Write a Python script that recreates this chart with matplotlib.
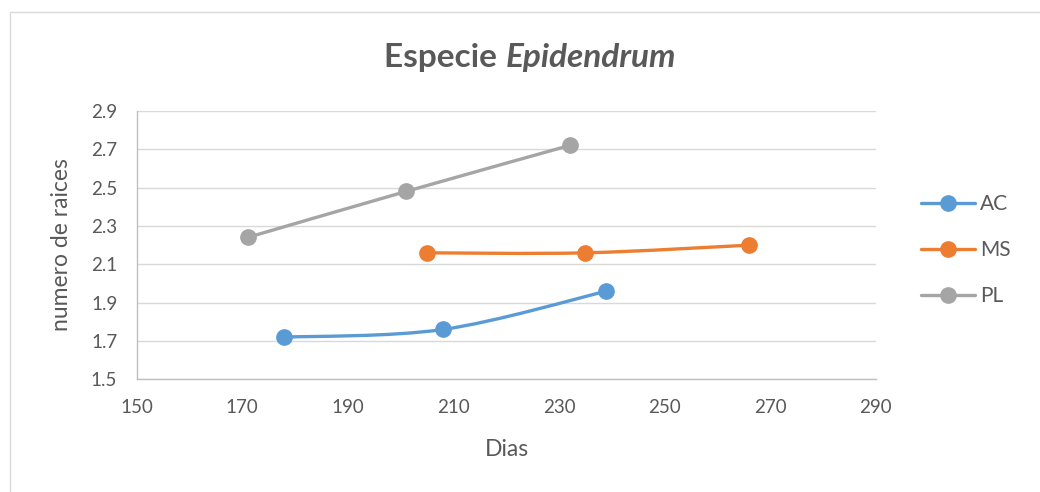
import matplotlib
matplotlib.use("Agg")
import matplotlib.pyplot as plt
from matplotlib.path import Path
from matplotlib.patches import PathPatch, Rectangle
from matplotlib.lines import Line2D

# days / number of roots per treatment
ac_dias = [178, 208, 239]
ac_raices = [1.72, 1.76, 1.96]
ms_dias = [205, 235, 266]
ms_raices = [2.16, 2.16, 2.20]
pl_dias = [171, 201, 232]
pl_raices = [2.24, 2.48, 2.72]

series = [("AC", ac_dias, ac_raices, "#5B9BD5"),
          ("MS", ms_dias, ms_raices, "#ED7D31"),
          ("PL", pl_dias, pl_raices, "#A5A5A5")]

x_ticks = [150, 170, 190, 210, 230, 250, 270, 290]
y_ticks = [1.5, 1.7, 1.9, 2.1, 2.3, 2.5, 2.7, 2.9]

plt.rcParams['font.family'] = ['Lato', 'DejaVu Sans']
txt = "#595959"


def smooth_path(xs, ys):
    # excel-like smoothed line: cubic bezier segments with catmull-rom tangents
    pts = list(zip(xs, ys))
    n = len(pts)
    verts = [pts[0]]
    codes = [Path.MOVETO]
    for i in range(n - 1):
        p0 = pts[max(i - 1, 0)]
        p1 = pts[i]
        p2 = pts[i + 1]
        p3 = pts[min(i + 2, n - 1)]
        c1 = (p1[0] + (p2[0] - p0[0]) / 6, p1[1] + (p2[1] - p0[1]) / 6)
        c2 = (p2[0] - (p3[0] - p1[0]) / 6, p2[1] - (p3[1] - p1[1]) / 6)
        verts += [c1, c2, p2]
        codes += [Path.CURVE4] * 3
    return Path(verts, codes)


fig = plt.figure(figsize=(10.4, 4.92), dpi=100)
ax = fig.add_axes([0.1314, 0.229, 0.7106, 0.5454])

handles = []
for name, xs, ys, col in series:
    ax.add_patch(PathPatch(smooth_path(xs, ys), facecolor="none", edgecolor=col,
                           linewidth=2.4, capstyle="round", zorder=3))
    ax.plot(xs, ys, linestyle="none", marker="o", markersize=11, color=col, zorder=4)
    handles.append(Line2D([], [], color=col, linewidth=2.4, marker="o", markersize=11,
                          solid_capstyle="round", label=name))

ax.set_xlim(150, 290)
ax.set_ylim(1.5, 2.9)
ax.set_xticks(x_ticks)
ax.set_yticks(y_ticks)
ax.set_yticklabels([f"{v:.1f}" for v in y_ticks])
ax.grid(axis="y", color="#D9D9D9", linewidth=1.0)
ax.set_axisbelow(True)
for s in ["top", "right"]:
    ax.spines[s].set_visible(False)
for s in ["left", "bottom"]:
    ax.spines[s].set_color("#BFBFBF")
    ax.spines[s].set_linewidth(1.0)
ax.tick_params(length=0, labelsize=13.5, labelcolor=txt, pad=14)

fig.text(507 / 1040, 1 - 450 / 492, "Dias", ha="center", va="center", fontsize=16.5, color=txt)
fig.text(62 / 1040, 1 - 245 / 492, "numero de raices", ha="center", va="center",
         rotation=90, fontsize=16.5, color=txt)

# title: plain bold part + bold italic genus name, centred as one line
ty = 1 - 57 / 492
t1 = fig.text(0, ty, "Especie ", ha="left", va="center",
              fontsize=24, color=txt, fontweight="bold")
t2 = fig.text(0, ty, "Epidendrum", ha="left", va="center",
              fontsize=24, color=txt, fontweight="bold", fontstyle="italic")
fig.canvas.draw()
w1 = t1.get_window_extent().width
w2 = t2.get_window_extent().width
x0 = 530 - (w1 + w2) / 2
t1.set_x(x0 / 1040)
t2.set_x((x0 + w1) / 1040)

leg = fig.legend(handles=handles, loc="center left", bbox_to_anchor=(902 / 1040, 1 - 250 / 492),
                 frameon=False, fontsize=15, labelspacing=1.25, handlelength=2.6,
                 handletextpad=0.25)
for t in leg.get_texts():
    t.set_color(txt)

# chart area border
fig.patches.append(Rectangle((10 / 1040, -0.1), 1.2, 1 - 12 / 492 + 0.1, transform=fig.transFigure,
                             fill=False, edgecolor="#D9D9D9", linewidth=1.0))

fig.savefig("out.png", dpi=100)
